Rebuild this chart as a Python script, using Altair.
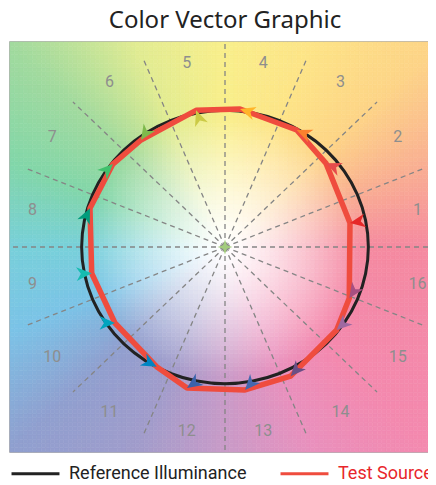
import math
import altair as alt
import pandas as pd

# ---------------- data ----------------
bins = list(range(1, 17))
bin_labels = [str(b) for b in bins]
bin_colors = ["#e62828", "#e74b4b", "#fb812e", "#ffb529", "#cbca46", "#7eb94c",
              "#41c06d", "#009c7c", "#16bcb0", "#00a4bf", "#0085c3", "#3b62aa",
              "#4568ae", "#6a4e85", "#9d69a1", "#a74f81"]
# normalized reference chromaticity (unit radius) and test source coordinates
ref_r = [1.0] * 16
test_x = [0.872, 0.705, 0.500, 0.105, -0.202, -0.586, -0.782, -0.942,
          -0.930, -0.768, -0.477, -0.265, 0.140, 0.458, 0.779, 0.867]
test_y = [0.176, 0.612, 0.856, 1.010, 1.000, 0.783, 0.607, 0.283,
          -0.192, -0.556, -0.876, -1.031, -1.046, -0.945, -0.607, -0.375]
series_names = ["Reference Illuminance", "Test Source"]

# background hue wheel anchors (every 22.5 deg starting at 0 deg = right)
wheel_colors = ["#f58aa0", "#f9ad93", "#fdd487", "#fde487", "#f9ef8b", "#e2ec92",
                "#a2da9e", "#82d6a9", "#78d0da", "#7bc3e7", "#909fcf", "#a19ccb",
                "#c99bc8", "#e990bd", "#f489ae", "#f489a8"]

LIM = 1.5
W, H = 430, 410
XPX, YPX = W / (2 * LIM), H / (2 * LIM)
LAB_R_AXIS, LAB_R_DIAG = 1.37, 1.45   # label ring radii (near axes / diagonals)

# ---------------- derived tables ----------------
bin_deg = [(b - 0.5) * 22.5 for b in bins]
ref_x = [r * math.cos(math.radians(a)) for r, a in zip(ref_r, bin_deg)]
ref_y = [r * math.sin(math.radians(a)) for r, a in zip(ref_r, bin_deg)]

ref_df = pd.DataFrame({"x": ref_x, "y": ref_y, "o": bins, "series": series_names[0]})
test_df = pd.DataFrame({"x": test_x, "y": test_y, "o": bins, "series": series_names[1]})

arrow_ang = []
for rx, ry, tx, ty in zip(ref_x, ref_y, test_x, test_y):
    dxp = (tx - rx) * XPX
    dyp = -(ty - ry) * YPX
    arrow_ang.append(math.degrees(math.atan2(dxp, -dyp)) % 360)
arrow_df = pd.DataFrame({"x": test_x, "y": test_y, "ang": arrow_ang, "c": bin_colors})

rule_deg = [k * 22.5 for k in range(16)]
rule_df = pd.DataFrame({
    "x": [0.0] * 16, "y": [0.0] * 16,
    "x2": [LIM * math.cos(math.radians(a)) for a in rule_deg],
    "y2": [LIM * math.sin(math.radians(a)) for a in rule_deg],
})

lab_r = [LAB_R_DIAG if b % 4 in (2, 3) else LAB_R_AXIS for b in bins]
lab_df = pd.DataFrame({
    "x": [r * math.cos(math.radians(a)) for r, a in zip(lab_r, bin_deg)],
    "y": [r * math.sin(math.radians(a)) for r, a in zip(lab_r, bin_deg)],
    "t": bin_labels,
})

center_df = pd.DataFrame({"x": [0.0], "y": [0.0]})


def hex2rgb(h):
    h = h.lstrip("#")
    return [int(h[i:i + 2], 16) for i in (0, 2, 4)]


wheel_rgb = [hex2rgb(c) for c in wheel_colors]
N = 96
cell = 2 * LIM / N
rows = []
for i in range(N):
    for j in range(N):
        x0 = -LIM + i * cell
        y0 = -LIM + j * cell
        cx, cy = x0 + cell / 2, y0 + cell / 2
        r = math.hypot(cx, cy)
        a = math.degrees(math.atan2(cy, cx)) % 360
        k = int(a // 22.5)
        f = (a - k * 22.5) / 22.5
        c1, c2 = wheel_rgb[k], wheel_rgb[(k + 1) % 16]
        col = [c1[m] * (1 - f) + c2[m] * f for m in range(3)]
        t = min(1.0, (r / 0.95) ** 1.3)
        col = [255 * (1 - t) + col[m] * t for m in range(3)]
        hexc = "#%02x%02x%02x" % tuple(int(round(v)) for v in col)
        rows.append((round(x0, 5), round(x0 + cell, 5), round(y0, 5), round(y0 + cell, 5), hexc))
bg_df = pd.DataFrame(rows, columns=["x", "x2", "y", "y2", "c"])

# ---------------- chart ----------------
xs = alt.Scale(domain=[-LIM, LIM], nice=False, zero=False)
ys = alt.Scale(domain=[-LIM, LIM], nice=False, zero=False)
X = lambda f="x": alt.X(f, type="quantitative", scale=xs, axis=None)
Y = lambda f="y": alt.Y(f, type="quantitative", scale=ys, axis=None)

bg = alt.Chart(bg_df).mark_rect(strokeWidth=0.6).encode(
    x=X(), x2="x2", y=Y(), y2="y2",
    fill=alt.Fill("c:N", scale=None), stroke=alt.Stroke("c:N", scale=None))

rules = alt.Chart(rule_df).mark_rule(color="#858585", strokeWidth=1.3, strokeDash=[5, 4]).encode(
    x=X(), y=Y(), x2="x2", y2="y2")

labels = alt.Chart(lab_df).mark_text(font="Roboto", fontSize=16, color="#8e8e8e",
                                     align="center", baseline="middle").encode(
    x=X(), y=Y(), text="t:N")

color_scale = alt.Scale(domain=series_names, range=["#222222", "#ef4c3e"])
legend = alt.Legend(
    title=None, orient="bottom", direction="horizontal", symbolType="stroke",
    symbolSize=2300, symbolStrokeWidth=3, labelFont="Roboto",
    labelFontSize=18, labelLimit=400, labelOffset=8, columnPadding=27, offset=-4.5,
    labelColor={"expr": "datum.label === 'Test Source' ? '#e8262b' : '#222222'"},
)

ref_line = alt.Chart(ref_df).mark_line(interpolate="cardinal-closed", strokeWidth=3).encode(
    x=X(), y=Y(), order="o:Q",
    color=alt.Color("series:N", scale=color_scale, legend=legend))

test_line = alt.Chart(test_df).mark_line(interpolate="linear-closed", strokeWidth=5.5,
                                         strokeJoin="round").encode(
    x=X(), y=Y(), order="o:Q",
    color=alt.Color("series:N", scale=color_scale, legend=legend))

arrow_path = "M0,0L0.85,1.9L0,1.35L-0.85,1.9Z"
arrows = alt.Chart(arrow_df).mark_point(shape=arrow_path, filled=True, size=260, opacity=1).encode(
    x=X(), y=Y(), angle=alt.Angle("ang:Q", scale=None),
    fill=alt.Fill("c:N", scale=None))

star_path = "M0,-1L0.25,-0.25L1,0L0.25,0.25L0,1L-0.25,0.25L-1,0L-0.25,-0.25Z"
center = alt.Chart(center_df).mark_point(shape=star_path, filled=True, size=220,
                                         color="#a3cc7c", opacity=1).encode(x=X(), y=Y())

chart = alt.layer(bg, rules, labels, ref_line, test_line, arrows, center).properties(
    width=W, height=H,
    autosize=alt.AutoSizeParams(type="none"),
    padding={"left": 2, "top": 34, "right": -12, "bottom": 30},
    title=alt.TitleParams("Color Vector Graphic", font="Noto Sans", fontSize=24,
                          fontWeight="normal", color="#222222", offset=8, anchor="middle"),
).configure_view(stroke="#9a9a9a", strokeWidth=1.5)

chart.save("out.html", embed_options={"renderer": "svg", "actions": False})
